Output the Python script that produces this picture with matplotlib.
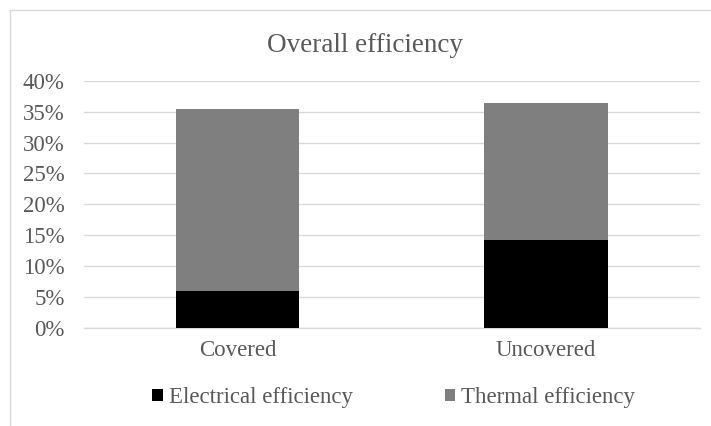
import matplotlib
matplotlib.use("Agg")
import matplotlib.pyplot as plt
from matplotlib.ticker import FuncFormatter, MultipleLocator
from matplotlib.lines import Line2D

categories = ["Covered", "Uncovered"]
electrical = [6.0, 14.15]
thermal = [29.4, 22.25]
series_names = ["Electrical efficiency", "Thermal efficiency"]

plt.rcParams['font.family'] = ['Liberation Serif', 'DejaVu Serif']
txt = "#595959"
fs = 16.5

fig = plt.figure(figsize=(7.11, 4.26), dpi=100)
ax = fig.add_axes([83.5/711, 1-327.5/426, (700-83.5)/711, (327.5-81)/426])

x = range(len(categories))
ax.bar(x, electrical, width=0.4, color="#000000", zorder=3, label=series_names[0])
ax.bar(x, thermal, width=0.4, bottom=electrical, color="#7f7f7f", zorder=3, label=series_names[1])

ax.set_xlim(-0.5, 1.5)
ax.set_ylim(0, 40)
ax.yaxis.set_major_locator(MultipleLocator(5))
ax.yaxis.set_major_formatter(FuncFormatter(lambda v, p: f"{v:.0f}%"))
ax.grid(axis="y", color="#d9d9d9", linewidth=1, zorder=0)
ax.set_xticks(list(x))
ax.set_xticklabels(categories)
for s in ["top", "right", "left"]:
    ax.spines[s].set_visible(False)
ax.spines["bottom"].set_color("#d9d9d9")
ax.spines["bottom"].set_linewidth(1)
ax.tick_params(axis="both", length=0, labelsize=fs, colors=txt)
ax.tick_params(axis="y", pad=13.5)
ax.tick_params(axis="x", pad=9)

fig.text(365/711, 1-45/426, "Overall efficiency", ha="center", va="center", fontsize=19.5, color=txt)

leg = fig.legend(loc="center", bbox_to_anchor=(393.7/711, 1-397.8/426), ncol=2, frameon=False,
                 fontsize=fs, handlelength=0.47, handleheight=0.47, handletextpad=0.26,
                 columnspacing=4.0, borderpad=0, borderaxespad=0)
for t in leg.get_texts():
    t.set_color(txt)

# chart border (top and left visible)
fig.add_artist(Line2D([9.5/711, 9.5/711], [0, 1-9.5/426], transform=fig.transFigure, color="#d9d9d9", linewidth=1))
fig.add_artist(Line2D([9.5/711, 1], [1-9.5/426, 1-9.5/426], transform=fig.transFigure, color="#d9d9d9", linewidth=1))

fig.savefig("out.png", dpi=100)
